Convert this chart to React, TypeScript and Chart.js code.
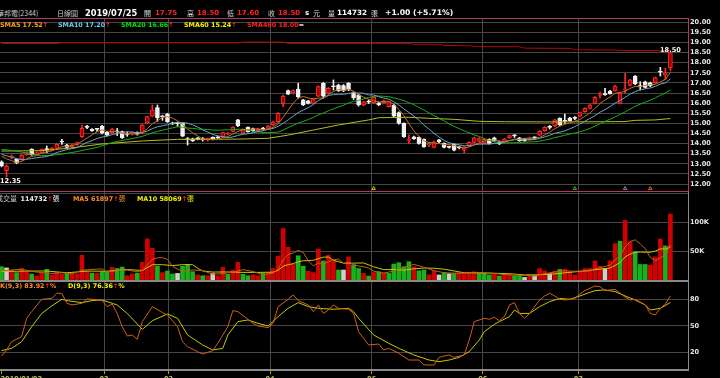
import React, { useEffect, useRef } from 'react';
import { Chart, registerables } from 'chart.js';

Chart.register(...registerables);

// ---------------- data (華邦電 2344, 2019/01/02 - 2019/07/25) ----------------
const opens = [
  13.10, 12.66, 13.33, 13.22, 13.22, 13.45, 13.72, 13.50, 13.52, 13.72,
  13.68, 13.76, 14.10, 13.93, 13.85, 13.95, 14.34, 14.84, 14.70, 14.70,
  14.87, 14.56, 14.54, 14.60, 14.59, 14.46, 14.45, 14.54, 14.50, 15.03,
  15.36, 15.78, 15.33, 15.46, 15.02, 14.99, 15.00, 14.22, 14.24, 14.28,
  14.22, 14.21, 14.31, 14.34, 14.34, 14.46, 14.60, 15.17, 14.51, 14.80,
  14.74, 14.64, 14.73, 14.75, 14.92, 15.08, 15.99, 16.62, 16.49, 16.70,
  16.16, 16.11, 15.99, 16.35, 16.98, 16.49, 16.83, 16.90, 16.87, 16.98,
  16.52, 16.40, 15.91, 16.07, 16.02, 16.02, 16.02, 15.83, 15.91, 15.53,
  15.00, 14.16, 14.34, 14.31, 14.21, 13.92, 13.81, 14.18, 14.01, 13.85,
  13.96, 13.82, 13.68, 13.88, 14.06, 14.12, 14.01, 14.21, 14.29, 14.09,
  14.09, 14.29, 14.39, 14.28, 14.23, 14.18, 14.31, 14.42, 14.64, 14.82,
  14.87, 15.25, 15.12, 15.27, 15.26, 15.36, 15.58, 15.74, 15.99, 16.38,
  16.44, 16.60, 16.62, 15.99, 16.66, 16.88, 17.34, 16.84, 17.06, 17.01,
  17.01, 17.55, 17.39, 17.75,
];
const highs = [
  13.15, 12.95, 13.45, 13.26, 13.47, 13.58, 13.75, 13.60, 13.74, 13.88,
  13.80, 14.00, 14.21, 13.96, 13.95, 14.08, 14.92, 14.90, 14.74, 14.76,
  14.90, 14.60, 14.76, 14.75, 14.62, 14.56, 14.58, 14.58, 14.95, 15.36,
  15.91, 15.91, 15.40, 15.50, 15.06, 15.05, 15.02, 14.30, 14.27, 14.30,
  14.30, 14.28, 14.33, 14.37, 14.57, 14.56, 14.83, 15.20, 14.73, 14.83,
  14.77, 14.77, 14.80, 14.90, 15.11, 15.53, 16.40, 16.65, 16.66, 16.98,
  16.19, 16.14, 16.24, 16.86, 17.02, 16.77, 17.15, 16.94, 16.92, 17.02,
  16.56, 16.44, 16.10, 16.15, 16.32, 16.06, 16.15, 16.09, 15.95, 15.57,
  15.03, 14.42, 14.37, 14.34, 14.24, 14.05, 14.12, 14.21, 14.04, 13.88,
  13.99, 13.88, 13.85, 14.09, 14.32, 14.30, 14.25, 14.24, 14.32, 14.12,
  14.26, 14.42, 14.45, 14.31, 14.26, 14.32, 14.34, 14.65, 14.83, 14.90,
  15.20, 15.28, 15.46, 15.30, 15.33, 15.56, 15.77, 15.94, 16.32, 16.55,
  16.73, 16.64, 16.88, 16.52, 17.48, 17.18, 17.37, 17.06, 17.09, 17.04,
  17.29, 17.77, 17.72, 18.50,
];
const lows = [
  12.85, 12.35, 13.25, 13.00, 13.18, 13.42, 13.42, 13.46, 13.50, 13.55,
  13.65, 13.74, 13.96, 13.78, 13.82, 13.92, 14.30, 14.74, 14.60, 14.60,
  14.48, 14.38, 14.52, 14.40, 14.25, 14.36, 14.42, 14.42, 14.48, 15.00,
  15.33, 15.10, 15.15, 15.05, 14.94, 14.85, 14.34, 13.93, 14.10, 14.18,
  14.12, 14.12, 14.18, 14.25, 14.30, 14.44, 14.58, 14.84, 14.48, 14.56,
  14.61, 14.61, 14.66, 14.72, 14.90, 15.05, 15.83, 16.42, 16.46, 16.24,
  15.88, 15.96, 15.96, 16.32, 16.25, 16.46, 16.65, 16.58, 16.57, 16.62,
  16.18, 15.85, 15.87, 15.98, 15.99, 15.88, 15.99, 15.80, 15.33, 14.96,
  14.30, 14.00, 14.20, 13.97, 13.81, 13.85, 13.78, 14.05, 13.78, 13.77,
  13.64, 13.74, 13.55, 13.85, 14.03, 14.08, 13.98, 13.98, 14.10, 13.95,
  14.06, 14.26, 14.30, 14.11, 14.11, 14.15, 14.20, 14.40, 14.61, 14.72,
  14.84, 14.89, 15.00, 15.10, 15.18, 15.33, 15.55, 15.71, 15.96, 16.25,
  16.38, 16.44, 16.59, 15.96, 16.49, 16.85, 16.92, 16.65, 16.75, 16.82,
  16.98, 17.34, 17.15, 17.60,
];
const closes = [
  12.89, 12.89, 13.35, 13.05, 13.43, 13.55, 13.45, 13.56, 13.71, 13.70,
  13.76, 13.96, 14.08, 13.81, 13.92, 14.05, 14.75, 14.80, 14.64, 14.70,
  14.51, 14.42, 14.72, 14.58, 14.29, 14.45, 14.54, 14.46, 14.92, 15.33,
  15.66, 15.28, 15.32, 15.08, 14.98, 14.98, 14.37, 14.20, 14.13, 14.22,
  14.20, 14.22, 14.22, 14.28, 14.54, 14.50, 14.80, 14.87, 14.70, 14.59,
  14.64, 14.74, 14.72, 14.87, 15.08, 15.50, 16.35, 16.45, 16.62, 16.32,
  15.91, 15.99, 16.21, 16.82, 16.35, 16.73, 16.81, 16.62, 16.62, 16.65,
  16.27, 15.91, 16.07, 16.05, 16.29, 15.91, 16.12, 16.06, 15.36, 15.00,
  14.34, 14.20, 14.24, 14.01, 13.85, 13.95, 14.09, 14.09, 13.81, 13.81,
  13.68, 13.80, 13.81, 14.06, 14.29, 14.25, 14.21, 14.01, 14.13, 13.98,
  14.23, 14.39, 14.38, 14.14, 14.14, 14.29, 14.29, 14.62, 14.80, 14.80,
  15.17, 14.92, 15.10, 15.13, 15.25, 15.53, 15.74, 15.91, 16.29, 16.42,
  16.42, 16.47, 16.85, 16.49, 16.70, 17.15, 16.95, 16.82, 16.78, 16.85,
  17.26, 17.53, 17.50, 18.50,
];
const priorClose = 13.12;

const volumes = [
  24000, 22000, 18000, 14000, 21000, 15500, 11500, 8000, 14000, 19500,
  10000, 14000, 11000, 12000, 11500, 12000, 44000, 16700, 13000, 12600,
  15500, 15500, 23000, 21000, 23500, 8600, 11500, 13000, 31600, 72000,
  56000, 25000, 14000, 16700, 11500, 12600, 25000, 28000, 15500, 10000,
  8600, 8600, 12600, 8600, 23000, 11000, 18400, 31600, 11000, 8600,
  10000, 8600, 12600, 14000, 21000, 42500, 90000, 57500, 28700, 43000,
  25000, 16700, 14000, 54600, 34000, 44000, 34500, 18400, 18400, 41000,
  27000, 21000, 12600, 8000, 14000, 15500, 14000, 12600, 28700, 31000,
  24000, 32800, 24000, 17000, 18400, 10000, 16700, 10000, 14000, 12000,
  12600, 14000, 12600, 14000, 15500, 13800, 12600, 10000, 11000, 8000,
  11000, 11000, 8600, 8600, 5700, 8600, 8600, 21000, 16700, 12000,
  16700, 19500, 20000, 15500, 10000, 16700, 21000, 21000, 34000, 25000,
  21000, 34000, 64000, 68000, 104000, 67000, 50000, 28000, 28000, 27000,
  41000, 72000, 60000, 114732,
];

const sma5 = [
  13.38, 13.25, 13.15, 13.07, 13.12, 13.25, 13.37, 13.41, 13.54, 13.59,
  13.64, 13.74, 13.84, 13.86, 13.91, 13.96, 14.12, 14.27, 14.43, 14.59,
  14.68, 14.61, 14.60, 14.59, 14.50, 14.49, 14.52, 14.46, 14.53, 14.74,
  14.98, 15.13, 15.30, 15.33, 15.26, 15.13, 14.95, 14.72, 14.53, 14.38,
  14.22, 14.19, 14.20, 14.23, 14.29, 14.35, 14.47, 14.60, 14.68, 14.69,
  14.72, 14.71, 14.68, 14.71, 14.81, 14.98, 15.30, 15.65, 16.00, 16.25,
  16.33, 16.26, 16.21, 16.25, 16.26, 16.42, 16.58, 16.67, 16.63, 16.69,
  16.59, 16.41, 16.30, 16.19, 16.12, 16.05, 16.09, 16.09, 15.95, 15.69,
  15.38, 14.99, 14.63, 14.36, 14.13, 14.05, 14.03, 14.00, 13.96, 13.95,
  13.90, 13.84, 13.78, 13.83, 13.93, 14.04, 14.12, 14.16, 14.18, 14.12,
  14.11, 14.15, 14.22, 14.22, 14.26, 14.27, 14.25, 14.30, 14.43, 14.56,
  14.74, 14.86, 14.96, 15.02, 15.11, 15.19, 15.35, 15.51, 15.74, 15.98,
  16.16, 16.30, 16.49, 16.53, 16.59, 16.73, 16.83, 16.82, 16.88, 16.91,
  16.93, 17.05, 17.18, 17.52,
];
const sma10 = [
  13.47, 13.40, 13.33, 13.25, 13.21, 13.22, 13.26, 13.30, 13.33, 13.36,
  13.45, 13.56, 13.63, 13.70, 13.75, 13.80, 13.93, 14.06, 14.15, 14.25,
  14.32, 14.37, 14.44, 14.51, 14.55, 14.59, 14.57, 14.53, 14.56, 14.62,
  14.74, 14.83, 14.88, 14.93, 15.00, 15.06, 15.04, 15.01, 14.93, 14.82,
  14.68, 14.57, 14.46, 14.38, 14.34, 14.29, 14.33, 14.40, 14.46, 14.49,
  14.54, 14.59, 14.64, 14.70, 14.75, 14.85, 15.01, 15.17, 15.36, 15.53,
  15.66, 15.78, 15.93, 16.13, 16.26, 16.38, 16.42, 16.44, 16.44, 16.48,
  16.51, 16.50, 16.49, 16.41, 16.41, 16.32, 16.25, 16.20, 16.07, 15.91,
  15.72, 15.54, 15.36, 15.16, 14.91, 14.72, 14.51, 14.32, 14.16, 14.04,
  13.98, 13.94, 13.89, 13.90, 13.94, 13.97, 13.98, 13.97, 14.01, 14.03,
  14.08, 14.14, 14.19, 14.20, 14.19, 14.19, 14.20, 14.26, 14.33, 14.41,
  14.51, 14.56, 14.63, 14.73, 14.84, 14.97, 15.11, 15.24, 15.38, 15.55,
  15.68, 15.83, 16.00, 16.14, 16.29, 16.45, 16.57, 16.66, 16.71, 16.75,
  16.83, 16.94, 17.00, 17.20,
];
const sma20 = [
  13.71, 13.69, 13.66, 13.62, 13.58, 13.53, 13.48, 13.44, 13.40, 13.40,
  13.42, 13.45, 13.48, 13.52, 13.56, 13.60, 13.66, 13.71, 13.76, 13.81,
  13.89, 13.97, 14.04, 14.11, 14.15, 14.20, 14.25, 14.30, 14.36, 14.44,
  14.53, 14.60, 14.66, 14.72, 14.78, 14.83, 14.81, 14.77, 14.75, 14.72,
  14.71, 14.70, 14.67, 14.66, 14.67, 14.68, 14.69, 14.71, 14.70, 14.66,
  14.61, 14.58, 14.55, 14.54, 14.55, 14.57, 14.67, 14.79, 14.91, 15.01,
  15.10, 15.19, 15.29, 15.42, 15.51, 15.62, 15.72, 15.81, 15.90, 16.01,
  16.09, 16.14, 16.21, 16.27, 16.34, 16.35, 16.34, 16.32, 16.26, 16.20,
  16.12, 16.02, 15.93, 15.79, 15.66, 15.52, 15.38, 15.26, 15.12, 14.98,
  14.85, 14.74, 14.63, 14.53, 14.43, 14.35, 14.25, 14.15, 14.09, 14.04,
  14.03, 14.04, 14.04, 14.05, 14.07, 14.08, 14.09, 14.12, 14.17, 14.22,
  14.30, 14.35, 14.41, 14.47, 14.52, 14.58, 14.66, 14.75, 14.86, 14.98,
  15.10, 15.20, 15.32, 15.44, 15.57, 15.71, 15.84, 15.95, 16.05, 16.15,
  16.26, 16.39, 16.50, 16.66,
];
const sma60Pts = [
  [0, 13.63], [8, 13.65], [13, 13.76], [20, 13.98], [28, 14.13], [35, 14.21],
  [47, 14.22], [53, 14.26], [57, 14.42], [62, 14.67], [67, 14.92], [73, 15.17],
  [75, 15.28], [81, 15.30], [85, 15.25], [90, 15.20], [95, 15.10], [100, 15.08],
  [110, 15.07], [120, 15.08], [124, 15.09], [126, 15.15], [130, 15.17], [133, 15.24],
];
const sma480Pts = [
  [0, 18.95], [11, 18.95], [12, 18.99], [47, 18.99], [48, 19.02], [56, 19.02],
  [57, 18.96], [81, 18.96], [82, 18.91], [87, 18.91], [88, 18.85], [93, 18.84],
  [95, 18.80], [103, 18.79], [104, 18.72], [113, 18.71], [114, 18.64], [122, 18.63],
  [123, 18.60], [133, 18.60],
];
const volMa5Pts = [
  [0, 17000], [2, 18500], [4, 19800], [6, 16000], [8, 14000], [10, 12600], [12, 13700],
  [14, 11700], [16, 18100], [18, 19400], [20, 20400], [21, 14700], [23, 17500], [25, 18300],
  [27, 15500], [28, 17600], [29, 27300], [30, 36800], [31, 39500], [32, 39700], [33, 36700],
  [34, 24600], [36, 16000], [38, 18500], [40, 17400], [42, 11100], [44, 12300], [46, 14700],
  [48, 19000], [50, 15900], [52, 10200], [54, 13200], [55, 19700], [56, 36000], [57, 45000],
  [58, 47900], [59, 52300], [60, 48800], [61, 34200], [62, 25500], [63, 30700], [64, 28900],
  [65, 32700], [66, 36200], [67, 37100], [68, 29900], [69, 31300], [70, 27900], [71, 25200],
  [72, 24000], [73, 21900], [74, 16500], [76, 12800], [78, 17000], [79, 20400], [80, 22100],
  [81, 25800], [82, 28100], [83, 25800], [84, 23200], [86, 17200], [88, 13800], [90, 13100],
  [92, 13000], [94, 13700], [96, 13700], [98, 12600], [100, 10500], [102, 9900], [104, 9000],
  [106, 8000], [107, 10500], [108, 12100], [110, 15000], [112, 17000], [114, 16300],
  [116, 16600], [117, 16800], [118, 20500], [120, 24400], [121, 27000], [122, 35600],
  [123, 42400], [124, 58200], [125, 67400], [126, 70600], [127, 63400], [128, 55400],
  [129, 40000], [130, 34800], [131, 39200], [132, 45600], [133, 61897],
];
const volMa10Pts = [
  [0, 16000], [5, 16500], [9, 16750], [13, 13650], [17, 16500], [21, 16400], [25, 19300],
  [28, 17600], [30, 27600], [32, 27600], [34, 26000], [36, 27700], [38, 27600], [39, 21400],
  [40, 16700], [42, 14900], [45, 15100], [48, 14300], [51, 14300], [54, 14700], [55, 17800],
  [56, 25000], [57, 27600], [58, 29400], [59, 32800], [60, 34300], [62, 35200], [64, 40600],
  [65, 40800], [66, 35200], [68, 30300], [70, 30300], [72, 30600], [74, 23900], [76, 19000],
  [78, 19400], [80, 18100], [82, 20500], [84, 21800], [86, 21500], [88, 19800], [90, 16800],
  [92, 13700], [95, 13500], [98, 12800], [101, 12000], [104, 10000], [107, 10200],
  [110, 11800], [113, 14400], [116, 16900], [119, 19900], [121, 21800], [122, 26200],
  [123, 31500], [124, 40900], [125, 45900], [126, 48800], [127, 49500], [128, 48900],
  [129, 49100], [130, 51100], [131, 54900], [132, 54500], [133, 58069],
];
const kPts = [
  [0, 15.8], [1, 22.6], [2, 32], [4, 37.7], [5, 58.5], [6, 66], [8, 80], [10, 81], [11, 86.8],
  [12, 86.8], [13, 75.5], [14, 73.6], [16, 75.5], [17, 80.4], [18, 80], [20, 78.5], [21, 71.7],
  [22, 74.7], [23, 64], [24, 49], [25, 38.5], [26, 39.6], [27, 34.7], [28, 54.7], [30, 71.7],
  [32, 65], [33, 62.3], [35, 49], [36, 32], [37, 26.4], [39, 20.7], [40, 18.1], [42, 21.9],
  [43, 30.2], [45, 49], [46, 67.2], [47, 66], [49, 57.4], [50, 52.8], [51, 49.8], [53, 47.9],
  [54, 52.8], [55, 71.7], [57, 80], [58, 84.9], [59, 78.5], [61, 73.6], [62, 66], [63, 73.6],
  [64, 64], [65, 67.9], [66, 73.6], [67, 69.8], [69, 68.7], [70, 64], [71, 43.4], [73, 28.3],
  [75, 29.4], [76, 22.6], [77, 24.5], [79, 18.9], [81, 11.3], [83, 11.3], [84, 5.7], [86, 5.7],
  [87, 14.3], [88, 15.8], [89, 17], [90, 14.3], [92, 17], [93, 34], [94, 54.7], [96, 58.5],
  [97, 57.4], [98, 59.6], [99, 55.8], [100, 60.4], [101, 73.6], [102, 76.2], [103, 64],
  [104, 58.5], [105, 64], [107, 79.2], [108, 83.8], [109, 86.8], [110, 83.8], [111, 80],
  [112, 79.2], [114, 81], [115, 86], [116, 89.8], [118, 95.1], [119, 94.3], [120, 89.8],
  [122, 91.3], [124, 82.3], [125, 79.2], [126, 80], [128, 73.6], [129, 64], [130, 62.3],
  [131, 69.8], [132, 74.7], [133, 83.92],
];
const dPts = [
  [0, 21.9], [2, 24.5], [4, 32], [6, 49], [8, 64], [10, 72.5], [12, 80], [13, 78.5], [16, 76.2],
  [18, 78.5], [20, 79.2], [22, 75.5], [23, 73.6], [25, 64], [28, 46], [30, 55.8], [33, 63.4],
  [35, 58.5], [37, 39.6], [40, 28.3], [42, 22.6], [44, 24.5], [45, 39.6], [47, 54.7], [49, 56.6],
  [51, 52.8], [53, 49.8], [55, 60.4], [57, 69.8], [59, 76.2], [61, 71.7], [63, 69.8], [66, 68.7],
  [69, 69.8], [70, 66], [71, 58.5], [74, 39.6], [77, 30.2], [79, 24.5], [82, 17], [85, 11.3],
  [87, 9.4], [89, 11.3], [91, 14.3], [93, 20.7], [95, 34], [96, 43.4], [98, 51.7], [99, 54.7],
  [101, 60.4], [102, 67.9], [103, 64], [105, 64], [107, 71.7], [109, 77.4], [111, 81], [113, 80],
  [115, 83.8], [118, 89.8], [120, 90.6], [122, 88.7], [124, 83.8], [126, 79.2], [128, 73.6],
  [129, 67.9], [131, 69.8], [133, 76.36],
];
const signalIdx = [74, 114, 124, 129];
const signalColors = ['#c8c800', '#1fc01f', '#6a90a8', '#c87020'];
const priceTicks = [12, 12.5, 13, 13.5, 14, 14.5, 15, 15.5, 16, 16.5, 17, 17.5, 18, 18.5, 19, 19.5, 20];
const volTicks = [50000, 100000, 150000];
const kdTicks = [20, 50, 80];
const monthGrid = [20.4, 33.2, 53.4, 73.6, 95.7, 114.7];
const dateLabelAt = [0, 20.4, 33.2, 53.4, 73.6, 95.7, 114.7];
const dateLabels = ['2019/01/02', '02', '03', '04', '05', '06', '07'];

// ---------------- styling ----------------
const X_MIN = -0.3;
const X_MAX = 136.5;
const GRID = '#474747';
const UP_LINE = '#ff2b2b';
const UP_FILL = '#a00000';
const DOWN = '#f2f2f2';
const AXIS_FONT = { family: 'DejaVu Sans', size: 6.6, weight: 'bold' };

const pts = (arr: number[]) => arr.map((v, i) => ({ x: i, y: v }));
const tup = (arr: number[][]) => arr.map(([x, y]) => ({ x, y }));
const isUp = (i: number) => closes[i] > opens[i];

function xAxis(height: number, marks: boolean, vals: number[]) {
  return {
    type: 'linear',
    min: X_MIN,
    max: X_MAX,
    offset: false,
    afterBuildTicks: (s: any) => { s.ticks = vals.map((v) => ({ value: v })); },
    afterFit: (s: any) => { s.height = height; s.paddingLeft = 0; s.paddingRight = 0; },
    ticks: { display: false },
    grid: {
      offset: false,
      color: (c: any) => (c.tick && c.tick.value === 0 ? 'rgba(0,0,0,0)' : GRID),
      drawTicks: marks,
      tickLength: 4,
      tickColor: '#a8a800',
    },
    border: { display: false },
  };
}

function yAxis(min: number, max: number, vals: number[], fmt: (v: number) => string) {
  return {
    type: 'linear',
    position: 'right',
    min,
    max,
    afterBuildTicks: (s: any) => { s.ticks = vals.map((v) => ({ value: v })); },
    afterFit: (s: any) => { s.width = 32; s.paddingTop = 0; s.paddingBottom = 0; },
    ticks: { color: '#e8e8e8', font: AXIS_FONT, padding: 2, autoSkip: false, callback: (v: any) => fmt(Number(v)) },
    grid: { color: GRID, drawTicks: false },
    border: { display: false },
  };
}

const common = {
  responsive: false,
  animation: false,
  events: [],
  layout: { padding: 0, autoPadding: false },
  plugins: { legend: { display: false }, tooltip: { enabled: false }, title: { display: false } },
};

const line = (data: any[], color: string, order: number) => ({
  type: 'line',
  data,
  borderColor: color,
  borderWidth: 1,
  pointRadius: 0,
  tension: 0,
  order,
});

const hiLoPlugin = {
  id: 'hilo',
  afterDatasetsDraw(chart: any) {
    const { ctx, scales } = chart;
    const x = scales.x;
    const y = scales.y;
    let hi = 0;
    let lo = 0;
    highs.forEach((h, i) => { if (h > highs[hi]) hi = i; });
    lows.forEach((l, i) => { if (l < lows[lo]) lo = i; });
    ctx.save();
    ctx.font = 'bold 6.6px "DejaVu Sans"';
    ctx.fillStyle = '#ffffff';
    ctx.textAlign = 'center';
    ctx.textBaseline = 'alphabetic';
    ctx.fillText(highs[hi].toFixed(2), x.getPixelForValue(hi), y.getPixelForValue(highs[hi]) - 1);
    const t = lows[lo].toFixed(2);
    const w = ctx.measureText(t).width;
    ctx.textAlign = 'left';
    ctx.textBaseline = 'top';
    ctx.fillText(t, Math.max(0, x.getPixelForValue(lo) - w / 2), y.getPixelForValue(lows[lo]) + 1);
    ctx.restore();
  },
};

const datePlugin = {
  id: 'dates',
  afterDraw(chart: any) {
    const { ctx, chartArea } = chart;
    const x = chart.scales.x;
    ctx.save();
    ctx.font = 'bold 6.6px "DejaVu Sans"';
    ctx.fillStyle = '#c8c864';
    ctx.textBaseline = 'top';
    dateLabelAt.forEach((v, k) => {
      const px = x.getPixelForValue(v);
      ctx.textAlign = k === 0 ? 'left' : 'center';
      ctx.fillText(dateLabels[k], k === 0 ? px - 1 : px, chartArea.bottom + 5.5);
    });
    ctx.restore();
  },
};

function priceConfig(): any {
  return {
    type: 'bar',
    data: {
      datasets: [
        {
          type: 'line',
          data: signalIdx.map((i) => ({ x: i, y: 11.78 })),
          showLine: false,
          pointStyle: 'triangle',
          pointRadius: 2,
          pointBorderWidth: 1,
          pointBorderColor: signalColors,
          pointBackgroundColor: 'rgba(0,0,0,0)',
          order: 0,
        },
        line(pts(sma5), '#c8701e', 1),
        line(pts(sma10), '#68a6cc', 2),
        line(pts(sma20), '#18b018', 3),
        line(tup(sma60Pts), '#bcbc1c', 4),
        line(tup(sma480Pts), '#c00000', 5),
        {
          type: 'bar',
          data: closes.map((c, i) => ({ x: i, y: [opens[i], c] })),
          backgroundColor: (c: any) => (isUp(c.dataIndex) ? UP_FILL : DOWN),
          borderColor: (c: any) => (isUp(c.dataIndex) ? UP_LINE : DOWN),
          borderWidth: 1,
          borderSkipped: false,
          barThickness: 4,
          minBarLength: 1,
          grouped: false,
          order: 8,
        },
        {
          type: 'bar',
          data: closes.map((_, i) => ({ x: i, y: [lows[i], highs[i]] })),
          backgroundColor: (c: any) => (isUp(c.dataIndex) ? UP_LINE : DOWN),
          barThickness: 1,
          grouped: false,
          order: 9,
        },
      ],
    },
    options: {
      ...common,
      scales: {
        x: xAxis(0, false, monthGrid),
        y: yAxis(11.654, 20.163, priceTicks, (v) => v.toFixed(2)),
      },
    },
    plugins: [hiLoPlugin],
  };
}

function volColor(i: number) {
  const prev = i === 0 ? priorClose : closes[i - 1];
  if (closes[i] > prev) return '#d00000';
  if (closes[i] < prev) return '#1cb01c';
  return '#cfcfcf';
}

function volumeConfig(): any {
  return {
    type: 'bar',
    data: {
      datasets: [
        line(tup(volMa5Pts), '#c0601a', 1),
        line(tup(volMa10Pts), '#c8c800', 2),
        {
          type: 'bar',
          data: volumes.map((v, i) => ({ x: i, y: v })),
          backgroundColor: (c: any) => volColor(c.dataIndex),
          barThickness: 4,
          grouped: false,
          order: 5,
        },
      ],
    },
    options: {
      ...common,
      scales: {
        x: xAxis(0, false, monthGrid),
        y: yAxis(-517, 152931, volTicks, (v) => (v >= 150000 ? '' : `${v / 1000}K`)),
      },
    },
  };
}

function kdConfig(): any {
  return {
    type: 'line',
    data: {
      datasets: [
        line(tup(kPts), '#d0601a', 1),
        line(tup(dPts), '#c8c800', 2),
      ],
    },
    options: {
      ...common,
      scales: {
        x: xAxis(8, true, dateLabelAt),
        y: yAxis(0, 100.7, kdTicks, (v) => String(v)),
      },
    },
    plugins: [datePlugin],
  };
}

// ---------------- text overlay ----------------
const FONT = '"DejaVu Sans", "Noto Sans CJK TC", sans-serif';
const CJK = '"Noto Sans CJK TC", "Noto Sans CJK SC", sans-serif';
const RED = '#ff2020';

function T({ x, y, c, s = 6.4, w = 700, f = FONT, children }: any) {
  return (
    <div
      style={{
        position: 'absolute',
        left: x,
        top: y - 6,
        height: 12,
        lineHeight: '12px',
        fontSize: s,
        fontWeight: w,
        color: c,
        fontFamily: f,
        whiteSpace: 'nowrap',
        zIndex: 5,
      }}
    >
      {children}
    </div>
  );
}
const Up = () => <span style={{ color: RED }}>↑</span>;
const Zh = ({ children, c }: any) => (
  <span style={{ fontFamily: CJK, fontWeight: 400, fontSize: 7, color: c }}>{children}</span>
);

function Box({ x, y, w, h, c }: any) {
  return <div style={{ position: 'absolute', left: x, top: y, width: w, height: h, background: c, zIndex: 4 }} />;
}

export default function App() {
  const priceRef = useRef<HTMLCanvasElement>(null);
  const volRef = useRef<HTMLCanvasElement>(null);
  const kdRef = useRef<HTMLCanvasElement>(null);

  useEffect(() => {
    document.body.style.margin = '0';
    document.body.style.background = '#000';
    const charts = [
      new Chart(priceRef.current as HTMLCanvasElement, priceConfig()),
      new Chart(volRef.current as HTMLCanvasElement, volumeConfig()),
      new Chart(kdRef.current as HTMLCanvasElement, kdConfig()),
    ];
    return () => charts.forEach((c) => c.destroy());
  }, []);

  const cv = (top: number): any => ({ position: 'absolute', left: 0, top, display: 'block' });
  const MAG = '#b4366e';
  const GRY = '#8a8a8a';

  return (
    <div style={{ position: 'relative', width: 720, height: 378, background: '#000', overflow: 'hidden' }}>
      <style>{'body{margin:0;background:#000;}'}</style>
      <canvas ref={priceRef} width={720} height={172} style={cv(19)} />
      <canvas ref={volRef} width={720} height={89} style={cv(192)} />
      <canvas ref={kdRef} width={720} height={97} style={cv(281)} />

      <Box x={0} y={18} w={689} h={1} c={MAG} />
      <Box x={688} y={18} w={1} h={174} c={MAG} />
      <Box x={0} y={191} w={689} h={1} c={MAG} />
      <Box x={688} y={192} w={1} h={178} c={GRY} />
      <Box x={0} y={280} w={689} h={2} c={GRY} />
      <Box x={0} y={369} w={689} h={2} c={GRY} />

      {/* header */}
      <T x={-3} y={12.5} c="#c8c8c8" s={7} w={400} f={CJK}>華邦電(2344)</T>
      <T x={57} y={12.5} c="#c8c8c8" s={7} w={400} f={CJK}>日線圖</T>
      <T x={85} y={12.5} c="#ffffff" s={8.3}>2019/07/25</T>
      <T x={144} y={12.5} c="#d8d8d8" s={7} w={400} f={CJK}>開</T>
      <T x={155} y={12.5} c={RED} s={7}>17.75</T>
      <T x={187} y={12.5} c="#d8d8d8" s={7} w={400} f={CJK}>高</T>
      <T x={197} y={12.5} c={RED} s={7}>18.50</T>
      <T x={227} y={12.5} c="#d8d8d8" s={7} w={400} f={CJK}>低</T>
      <T x={237} y={12.5} c={RED} s={7}>17.60</T>
      <T x={268} y={12.5} c="#d8d8d8" s={7} w={400} f={CJK}>收</T>
      <T x={278} y={12.5} c={RED} s={7}>18.50</T>
      <T x={305} y={12.5} c="#ffffff" s={7}>s</T>
      <T x={313} y={12.5} c="#d8d8d8" s={7} w={400} f={CJK}>元</T>
      <T x={328} y={12.5} c="#d8d8d8" s={7} w={400} f={CJK}>量</T>
      <T x={337} y={12.5} c="#ffffff" s={7.2}>114732</T>
      <T x={371} y={12.5} c="#d8d8d8" s={7} w={400} f={CJK}>張</T>
      <T x={385} y={12.5} c="#ffffff" s={7.7}>+1.00 (+5.71%)</T>

      {/* price legend */}
      <T x={0} y={24.5} c="#ff9c1e">SMA5 17.52<Up /></T>
      <T x={58} y={24.5} c="#6cc8f0">SMA10 17.20<Up /></T>
      <T x={121} y={24.5} c="#00e000">SMA20 16.66<Up /></T>
      <T x={184} y={24.5} c="#f0f000">SMA60 15.24<Up /></T>
      <T x={247} y={24.5} c={RED}>SMA480 18.00<span style={{ color: '#e0e0e0' }}>=</span></T>

      {/* volume legend */}
      <T x={-4} y={198.3} c="#c8c8c8" s={7} w={400} f={CJK}>成交量</T>
      <T x={20.5} y={198.3} c="#f0f0f0">114732<Up /><Zh c="#f0f0f0">張</Zh></T>
      <T x={73} y={198.3} c="#ff8c28">MA5 61897<Up /><Zh c="#ff8c28">張</Zh></T>
      <T x={137} y={198.3} c="#f0f000">MA10 58069<Up /><Zh c="#f0f000">張</Zh></T>

      {/* KD legend */}
      <T x={0} y={286} c="#ff8c28">K(9,3) 83.92<Up />%</T>
      <T x={68} y={286} c="#f0f000">D(9,3) 76.36<Up />%</T>
    </div>
  );
}
